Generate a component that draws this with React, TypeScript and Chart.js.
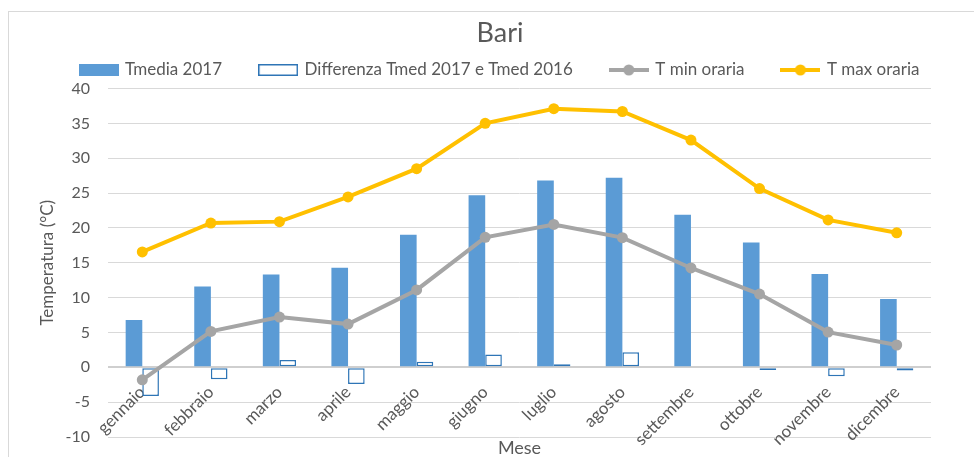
import React, { useEffect, useRef } from "react";
import { Chart, registerables } from "chart.js";

Chart.register(...registerables);

const chartTitle = "Bari";
const months = [
  "gennaio", "febbraio", "marzo", "aprile", "maggio", "giugno",
  "luglio", "agosto", "settembre", "ottobre", "novembre", "dicembre",
];
const tmedia2017 = [6.8, 11.6, 13.3, 14.3, 19.0, 24.7, 26.8, 27.2, 21.9, 17.9, 13.4, 9.8];
const diffTmed = [-4.1, -1.7, 1.05, -2.4, 0.8, 1.85, 0.45, 2.15, 0, -0.4, -1.3, -0.45];
const tMinOraria = [-1.8, 5.15, 7.2, 6.2, 11.1, 18.65, 20.5, 18.6, 14.25, 10.5, 5.05, 3.2];
const tMaxOraria = [16.55, 20.7, 20.9, 24.45, 28.5, 35.0, 37.1, 36.7, 32.6, 25.65, 21.15, 19.3];
const seriesNames = ["Tmedia 2017", "Differenza Tmed 2017 e Tmed 2016", "T min oraria", "T max oraria"];
const yMin = -10;
const yMax = 40;
const yStep = 5;
const yTitle = "Temperatura (°C)";
const xTitle = "Mese";

const BLUE = "#5b9bd5";
const OUTLINE = "#2e75b6";
const GREY = "#a5a5a5";
const GOLD = "#ffc000";
const TEXT = "#595959";
const GRID = "#d9d9d9";

function makeIcon(kind: string, color: string): HTMLCanvasElement {
  const c = document.createElement("canvas");
  c.width = 40;
  c.height = 14;
  const ctx = c.getContext("2d")!;
  if (kind === "bar") {
    ctx.fillStyle = color;
    ctx.fillRect(0, 1, 40, 12);
  } else if (kind === "outline") {
    ctx.fillStyle = "#ffffff";
    ctx.fillRect(0, 1, 40, 12);
    ctx.strokeStyle = color;
    ctx.lineWidth = 1.5;
    ctx.strokeRect(0.75, 1.75, 38.5, 10.5);
  } else {
    ctx.strokeStyle = color;
    ctx.lineWidth = 4;
    ctx.beginPath();
    ctx.moveTo(0, 7);
    ctx.lineTo(40, 7);
    ctx.stroke();
    ctx.fillStyle = color;
    ctx.beginPath();
    ctx.arc(20, 7, 5.5, 0, Math.PI * 2);
    ctx.fill();
  }
  return c;
}

export default function App() {
  const ref = useRef<HTMLCanvasElement | null>(null);

  useEffect(() => {
    if (!ref.current) return;
    Chart.defaults.font.family = "Lato";
    Chart.defaults.color = TEXT;
    const icons = [
      makeIcon("bar", BLUE),
      makeIcon("outline", OUTLINE),
      makeIcon("line", GREY),
      makeIcon("line", GOLD),
    ];
    const chart = new Chart(ref.current, {
      type: "bar",
      data: {
        labels: months,
        datasets: [
          {
            type: "bar",
            label: seriesNames[0],
            data: tmedia2017,
            backgroundColor: BLUE,
            borderWidth: 0,
            categoryPercentage: 0.485,
            barPercentage: 1,
            order: 1,
          },
          {
            type: "bar",
            label: seriesNames[1],
            data: diffTmed,
            backgroundColor: "#ffffff",
            borderColor: OUTLINE,
            borderWidth: 1.5,
            borderSkipped: false,
            categoryPercentage: 0.485,
            barPercentage: 1,
            order: 1,
          },
          {
            type: "line",
            label: seriesNames[2],
            data: tMinOraria,
            borderColor: GREY,
            backgroundColor: GREY,
            borderWidth: 4,
            pointRadius: 5.5,
            pointBorderWidth: 0,
            pointBackgroundColor: GREY,
            tension: 0,
            order: 0,
          },
          {
            type: "line",
            label: seriesNames[3],
            data: tMaxOraria,
            borderColor: GOLD,
            backgroundColor: GOLD,
            borderWidth: 4,
            pointRadius: 5.5,
            pointBorderWidth: 0,
            pointBackgroundColor: GOLD,
            tension: 0,
            order: 0,
          },
        ],
      },
      options: {
        responsive: false,
        animation: false,
        devicePixelRatio: 1,
        layout: { padding: 0 },
        plugins: {
          tooltip: { enabled: false },
          title: {
            display: true,
            text: chartTitle,
            color: TEXT,
            font: { family: "Lato", size: 27, weight: "normal" },
            padding: { top: 17.3, bottom: -26.2 },
          },
          legend: {
            display: true,
            position: "top",
            labels: {
              color: TEXT,
              font: { family: "Lato", size: 17 },
              usePointStyle: true,
              pointStyleWidth: 36,
              padding: 38,
              generateLabels: (ch: any) =>
                ch.data.datasets.map((ds: any, i: number) => ({
                  text: ds.label,
                  pointStyle: icons[i],
                  fillStyle: "transparent",
                  strokeStyle: "transparent",
                  lineWidth: 0,
                  hidden: false,
                  datasetIndex: i,
                  fontColor: TEXT,
                })),
            },
          },
        },
        scales: {
          x: {
            type: "category",
            offset: true,
            grid: { display: false, drawTicks: false },
            border: { display: false },
            ticks: {
              autoSkip: false,
              minRotation: 45,
              maxRotation: 45,
              padding: -55,
              color: TEXT,
              font: { family: "Lato", size: 17 },
            },
            title: {
              display: true,
              text: xTitle,
              color: TEXT,
              font: { family: "Lato", size: 18 },
              padding: { top: 0, bottom: 6.2 },
            },
            afterFit: (s: any) => {
              s.height = 28;
              s._computeLabelArea = () => undefined;
            },
          },
          y: {
            type: "linear",
            position: "left",
            min: yMin,
            max: yMax,
            ticks: {
              stepSize: yStep,
              padding: 18,
              color: TEXT,
              font: { family: "Lato", size: 16 },
            },
            grid: {
              drawTicks: false,
              color: (c: any) => (c.tick && c.tick.value === 0 ? "#cfcfcf" : GRID),
              lineWidth: (c: any) => (c.tick && c.tick.value === 0 ? 2 : 1),
            },
            border: { display: false },
            title: {
              display: true,
              text: yTitle,
              color: TEXT,
              font: { family: "Lato", size: 17 },
              padding: { top: 37.8, bottom: 0 },
            },
            afterFit: (s: any) => {
              s.width = 108;
            },
          },
          y2: {
            type: "linear",
            position: "right",
            display: true,
            grid: { display: false, drawTicks: false },
            border: { display: false },
            ticks: { display: false },
            afterFit: (s: any) => {
              s.width = 69;
            },
          },
        },
      },
    } as any);
    return () => chart.destroy();
  }, []);

  return (
    <div
      style={{
        position: "fixed",
        left: 0,
        top: 0,
        width: 974,
        height: 457,
        overflow: "hidden",
        background: "#ffffff",
      }}
    >
      <div
        style={{
          position: "absolute",
          left: 8,
          top: 11,
          width: 1100,
          height: 600,
          border: "1px solid #d9d9d9",
          boxSizing: "border-box",
        }}
      />
      <canvas
        ref={ref}
        width={1000}
        height={465}
        style={{ position: "absolute", left: 0, top: 0, width: 1000, height: 465 }}
      />
    </div>
  );
}
